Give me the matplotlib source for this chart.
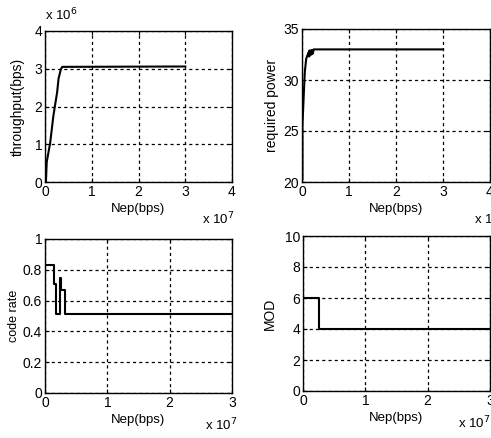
import matplotlib
matplotlib.use("Agg")
import matplotlib.pyplot as plt
from matplotlib.ticker import FuncFormatter

plt.rcParams['font.family'] = ['Liberation Sans', 'DejaVu Sans']

# throughput vs Nep
tp_x = [0.02e7, 0.037e7, 0.11e7, 0.18e7, 0.26e7, 0.29e7, 0.34e7, 0.37e7, 3.0e7]
tp_y = [0, 0.53e6, 1.03e6, 1.76e6, 2.38e6, 2.74e6, 2.99e6, 3.05e6, 3.06e6]

# required power vs Nep
pw_x = [0.01e7, 0.01e7, 0.04e7, 0.06e7, 0.09e7, 0.14e7, 0.15e7, 0.16e7, 0.17e7,
        0.19e7, 0.20e7, 0.22e7, 0.23e7, 0.25e7, 0.28e7, 3.0e7]
pw_y = [20.3, 25.6, 28.8, 30.8, 32.1, 32.7, 32.3, 32.9, 32.4,
        32.9, 32.5, 32.95, 32.6, 33.0, 33.0, 33.0]

# code rate vs Nep (step)
cr_x = [0, 0.15e7, 0.18e7, 0.24e7, 0.26e7, 0.32e7, 3.0e7]
cr_y = [0.833, 0.71, 0.51, 0.75, 0.667, 0.51, 0.51]

# modulation order vs Nep (step)
md_x = [0, 0.25e7, 3.0e7]
md_y = [6, 4, 4]

W, H = 491, 438
fig = plt.figure(figsize=(W / 100, H / 100), dpi=100)


def make_ax(l, t, r, b):
    ax = fig.add_axes([l / W, 1 - b / H, (r - l) / W, (b - t) / H])
    ax.grid(True, color='k', linestyle=(0, (2.5, 2.5)), linewidth=0.9)
    ax.tick_params(direction='in', length=3, labelsize=10, top=True, right=True, pad=2)
    for s in ax.spines.values():
        s.set_linewidth(1.0)
    ax.xaxis.set_major_formatter(FuncFormatter(lambda v, p: '%g' % (v / 1e7)))
    return ax


def exp_text(ax, x, y, n):
    fig.text(x / W, 1 - y / H, r'x 10$^{%d}$' % n, fontsize=9.5, ha='left', va='baseline')


ax1 = make_ax(45, 31, 232, 182)
ax1.plot(tp_x, tp_y, color='k', linewidth=1.5)
ax1.set_xlim(0, 4e7)
ax1.set_ylim(0, 4e6)
ax1.set_xticks([0, 1e7, 2e7, 3e7, 4e7])
ax1.set_yticks([0, 1e6, 2e6, 3e6, 4e6])
ax1.yaxis.set_major_formatter(FuncFormatter(lambda v, p: '%g' % (v / 1e6)))
ax1.set_xlabel('Nep(bps)', fontsize=9.5, labelpad=3)
ax1.set_ylabel('throughput(bps)', fontsize=10, labelpad=7)
exp_text(ax1, 202, 224, 7)
fig.text(45 / W, 1 - 20 / H, r'x 10$^{6}$', fontsize=9.5, ha='left', va='baseline')

ax2 = make_ax(302, 29, 490, 182)
ax2.plot(pw_x, pw_y, color='k', linewidth=1.5)
ax2.set_xlim(0, 4e7)
ax2.set_ylim(20, 35)
ax2.set_xticks([0, 1e7, 2e7, 3e7, 4e7])
ax2.set_yticks([20, 25, 30, 35])
ax2.set_xlabel('Nep(bps)', fontsize=9.5, labelpad=3)
ax2.set_ylabel('required power', fontsize=10, labelpad=3)
exp_text(ax2, 474, 224, 7)

ax3 = make_ax(45, 239, 232, 393)
ax3.step(cr_x, cr_y, where='post', color='k', linewidth=1.5)
ax3.set_xlim(0, 3e7)
ax3.set_ylim(0, 1)
ax3.set_xticks([0, 1e7, 2e7, 3e7])
ax3.set_yticks([0, 0.2, 0.4, 0.6, 0.8, 1])
ax3.yaxis.set_major_formatter(FuncFormatter(lambda v, p: '%g' % v))
ax3.set_xlabel('Nep(bps)', fontsize=9.5, labelpad=3)
ax3.set_ylabel('code rate', fontsize=9, labelpad=2)
exp_text(ax3, 205, 430, 7)

ax4 = make_ax(303, 236, 490, 391)
ax4.step(md_x, md_y, where='post', color='k', linewidth=1.5)
ax4.set_xlim(0, 3e7)
ax4.set_ylim(0, 10)
ax4.set_xticks([0, 1e7, 2e7, 3e7])
ax4.set_yticks([0, 2, 4, 6, 8, 10])
ax4.set_xlabel('Nep(bps)', fontsize=9.5, labelpad=3)
ax4.set_ylabel('MOD', fontsize=10, labelpad=6)
exp_text(ax4, 458, 428, 7)

fig.savefig('out.png', dpi=100)
